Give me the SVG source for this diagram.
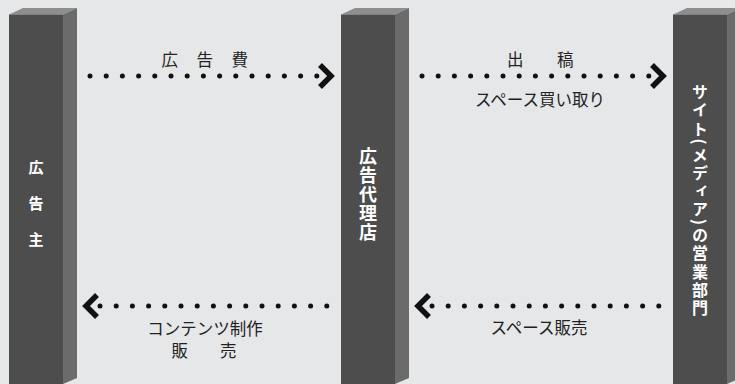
<svg xmlns="http://www.w3.org/2000/svg" width="735" height="384" viewBox="0 0 735 384">
<style>
.front{fill:#4d4d4d}
.side{fill:#6b6b6b}
.top{fill:#8e8e8e}
.pl{font-family:"Noto Sans CJK JP","Noto Sans",sans-serif;font-weight:bold;fill:#ffffff;text-anchor:middle}
.vt{writing-mode:vertical-rl}
.lb{font-family:"Noto Sans CJK JP","Noto Sans",sans-serif;font-size:16.5px;fill:#222222;text-anchor:middle}
.dot{fill:#111111}
.chev{fill:none;stroke:#111111;stroke-width:5.5;stroke-linejoin:miter}
</style>
<defs>
<g id="pillar">
<polygon class="top" points="9,14.5 23,8 77,8 63,14.5"/>
<polygon class="side" points="63,14.5 77,8 77,378 63,384"/>
<rect class="front" x="9" y="14.5" width="54" height="370"/>
</g>
<g id="dots15">
<circle cx="0" cy="0" r="2.5"/><circle cx="16.2" cy="0" r="2.5"/><circle cx="32.4" cy="0" r="2.5"/><circle cx="48.6" cy="0" r="2.5"/><circle cx="64.8" cy="0" r="2.5"/><circle cx="81" cy="0" r="2.5"/><circle cx="97.2" cy="0" r="2.5"/><circle cx="113.4" cy="0" r="2.5"/><circle cx="129.6" cy="0" r="2.5"/><circle cx="145.8" cy="0" r="2.5"/><circle cx="162" cy="0" r="2.5"/><circle cx="178.2" cy="0" r="2.5"/><circle cx="194.4" cy="0" r="2.5"/><circle cx="210.6" cy="0" r="2.5"/><circle cx="226.8" cy="0" r="2.5"/>
</g>
</defs>
<rect width="735" height="384" fill="#e6e7e9"/>

<g id="advertiser">
<use href="#pillar"/>
<text class="pl" x="36" y="173" font-size="15">広</text>
<text class="pl" x="36" y="209" font-size="15">告</text>
<text class="pl" x="36" y="245" font-size="15">主</text>
</g>

<g id="agency">
<use href="#pillar" x="332"/>
<text class="pl vt" x="368" y="195" font-size="18" letter-spacing="1">広告代理店</text>
</g>

<g id="media">
<use href="#pillar" x="664"/>
<text class="pl vt" x="700" y="201" font-size="16" letter-spacing="2.1">サイト(メディア)の営業部門</text>
</g>

<g id="connectors" class="dot">
<use href="#dots15" x="90" y="76"/>
<polyline class="chev" points="320,65 331,76 320,87"/>
<use href="#dots15" x="422" y="76"/>
<polyline class="chev" points="652,65 663,76 652,87"/>
<use href="#dots15" x="100" y="306"/>
<polyline class="chev" points="97,295 86,306 97,317"/>
<use href="#dots15" x="432" y="306"/>
<polyline class="chev" points="429,295 418,306 429,317"/>
</g>

<g id="labels">
<text class="lb" x="205" y="66" letter-spacing="18.5" dx="9">広告費</text>
<text class="lb" x="540" y="66" letter-spacing="33.5" dx="17">出稿</text>
<text class="lb" x="540" y="106">スペース買い取り</text>
<text class="lb" x="205" y="335" font-size="16">コンテンツ制作</text>
<text class="lb" x="204" y="357" font-size="16" letter-spacing="32" dx="16">販売</text>
<text class="lb" x="539" y="334">スペース販売</text>
</g>
</svg>
